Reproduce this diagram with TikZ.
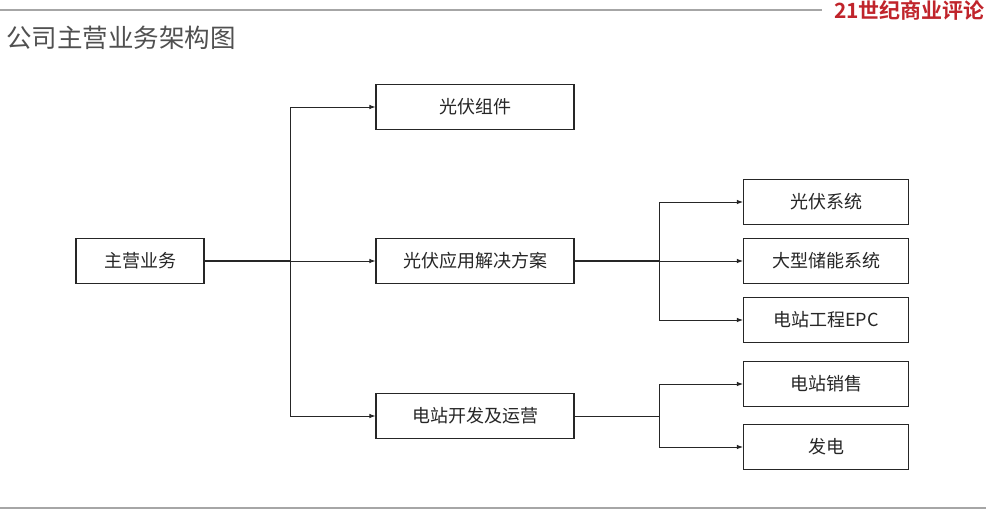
\documentclass[tikz,border=0pt]{standalone}
\usepackage{fontspec}
\newfontfamily\cjk{Noto Sans CJK SC}
\newfontfamily\cjkb{Noto Sans CJK SC Bold}
\usetikzlibrary{arrows.meta}
\definecolor{rulegray}{HTML}{A6A6A6}
\definecolor{titlegray}{HTML}{505050}
\definecolor{logored}{HTML}{C0242B}
\tikzset{
  bx/.style={draw=black!85, line width=1.1pt, minimum width=#1, inner sep=0pt, font=\cjk\fontsize{18}{18}\selectfont, text=black!85},
  bx/.default=198pt,
  conn/.style={draw=black!85, line width=0.9pt},
  arr/.style={conn, -{Latex[length=6pt,width=4.5pt]}},
}
\begin{document}
\begin{tikzpicture}[x=1pt,y=-1pt]
\useasboundingbox (0,0) rectangle (986,511);
\fill[white] (0,0) rectangle (986,511);
\node[anchor=north east, inner sep=0pt, text=logored, font=\cjkb\fontsize{21}{21}\selectfont] (logo) at (985,0.5) {21世纪商业评论};
\draw[rulegray, line width=1.8pt] (0,10) -- (822,10);
\draw[rulegray, line width=1.5pt] (0,508) -- (986,508);
\node[anchor=west, inner sep=0pt, text=titlegray, font=\cjk\fontsize{25.5}{25.5}\selectfont] (title) at (6,38) {公司主营业务架构图};

\node[bx=128pt, minimum height=45pt] (main) at (140,261) {主营业务};
\node[bx, minimum height=45pt] (m1) at (475,107) {光伏组件};
\node[bx, minimum height=45pt] (m2) at (475,261) {光伏应用解决方案};
\node[bx, minimum height=45pt] (m3) at (475,416) {电站开发及运营};
\node[bx=165pt, minimum height=45pt] (r1) at (826,202) {光伏系统};
\node[bx=165pt, minimum height=45pt] (r2) at (826,261) {大型储能系统};
\node[bx=165pt, minimum height=45pt] (r3) at (826,320) {电站工程EPC};
\node[bx=165pt, minimum height=45pt] (r4) at (826,384) {电站销售};
\node[bx=165pt, minimum height=45pt] (r5) at (826,447) {发电};

\coordinate (j1) at (290,261);
\coordinate (j2) at (659,261);
\coordinate (j3) at (659,416);

\draw[conn, line width=1.6pt] (main.east) -- (j1);
\draw[arr] (j1) |- (m1.west);
\draw[arr] (j1) -- (m2.west);
\draw[arr] (j1) |- (m3.west);

\draw[conn, line width=1.4pt] (m2.east) -- (j2);
\draw[arr] (j2) |- (r1.west);
\draw[arr] (j2) -- (r2.west);
\draw[arr] (j2) |- (r3.west);

\draw[conn] (m3.east) -- (j3);
\draw[arr] (j3) |- (r4.west);
\draw[arr] (j3) |- (r5.west);
\end{tikzpicture}
\end{document}
